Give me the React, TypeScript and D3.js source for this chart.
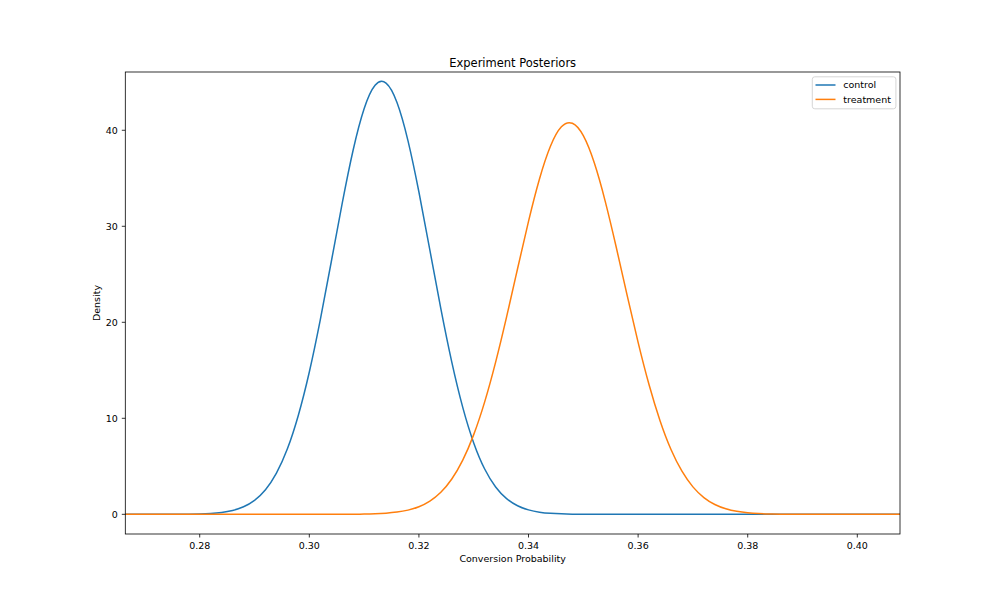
import React from "react";
import * as d3 from "d3";

const conversionGrid = [
  0.266, 0.268, 0.27, 0.272, 0.274, 0.276, 0.278, 0.28, 0.282, 0.284, 0.286, 0.288,
  0.29, 0.292, 0.294, 0.296, 0.298, 0.3, 0.302, 0.304, 0.306, 0.308, 0.31, 0.312,
  0.314, 0.316, 0.318, 0.32, 0.322, 0.324, 0.326, 0.328, 0.33, 0.332, 0.334, 0.336,
  0.338, 0.34, 0.342, 0.344, 0.346, 0.348, 0.35, 0.352, 0.354, 0.356, 0.358, 0.36,
  0.362, 0.364, 0.366, 0.368, 0.37, 0.372, 0.374, 0.376, 0.378, 0.38, 0.382, 0.384,
  0.386, 0.388, 0.39, 0.392, 0.394, 0.396, 0.398, 0.4, 0.402, 0.404, 0.406, 0.408,
];

const controlDensity = [
  0, 0.0001, 0.0003, 0.0009, 0.0025, 0.0066, 0.0166, 0.0397, 0.09, 0.195, 0.4, 0.783,
  1.452, 2.559, 4.289, 6.82, 10.32, 14.82, 20.25, 26.28, 32.39, 37.95, 42.25, 44.69,
  44.92, 42.9, 38.93, 33.57, 27.51, 21.42, 15.85, 11.14, 7.44, 4.72, 2.85, 1.63,
  0.889, 0.46, 0.226, 0.106, 0.047, 0.0198, 0.0079, 0.003, 0.001, 0.0004, 0.0001, 0,
  0, 0, 0, 0, 0, 0, 0, 0, 0, 0, 0, 0,
  0, 0, 0, 0, 0, 0, 0, 0, 0, 0, 0, 0,
];

const treatmentDensity = [
  0, 0, 0, 0, 0, 0, 0, 0, 0, 0, 0, 0,
  0, 0, 0, 0, 0, 0.0003, 0.0008, 0.0021, 0.0051, 0.012, 0.0267, 0.057,
  0.118, 0.232, 0.438, 0.794, 1.381, 2.302, 3.681, 5.646, 8.3, 11.71, 15.85, 20.56,
  25.58, 30.52, 34.93, 38.34, 40.36, 40.73, 39.44, 36.61, 32.6, 27.84, 22.8, 17.91,
  13.49, 9.75, 6.75, 4.49, 2.86, 1.747, 1.024, 0.576, 0.31, 0.16, 0.0795, 0.0378,
  0.0173, 0.0075, 0.0031, 0.0012, 0.0005, 0.0002, 0.0001, 0, 0, 0, 0, 0,
];

const seriesNames = ["control", "treatment"];
const seriesColors = ["#1f77b4", "#ff7f0e"];
const xTicks = [0.28, 0.3, 0.32, 0.34, 0.36, 0.38, 0.4];
const yTicks = [0, 10, 20, 30, 40];

export default function App() {
  const W = 1000;
  const H = 600;
  const left = 125.3;
  const right = 900;
  const top = 72;
  const bottom = 534;
  const font = "'DejaVu Sans', sans-serif";

  const x = d3.scaleLinear().domain([0.26642, 0.40779]).range([left, right]);
  const y = d3.scaleLinear().domain([-2.05, 46.07]).range([bottom, top]);

  const line = d3
    .line<number>()
    .x((_, i) => x(conversionGrid[i]))
    .y((d) => y(d))
    .curve(d3.curveNatural);

  const series = [controlDensity, treatmentDensity];

  return (
    <svg
      width={W}
      height={H}
      style={{ position: "absolute", left: 0, top: 0, background: "#fff" }}
      fontFamily={font}
    >
      <defs>
        <clipPath id="plotClip">
          <rect x={left} y={top} width={right - left} height={bottom - top} />
        </clipPath>
      </defs>
      <rect x={0} y={0} width={W} height={H} fill="#fff" />
      <g clipPath="url(#plotClip)">
        {series.map((s, i) => (
          <path
            key={seriesNames[i]}
            d={line(s) || ""}
            fill="none"
            stroke={seriesColors[i]}
            strokeWidth={1.5}
            strokeLinejoin="round"
            strokeLinecap="square"
          />
        ))}
      </g>
      {/* spines */}
      <rect
        x={left}
        y={top}
        width={right - left}
        height={bottom - top}
        fill="none"
        stroke="#000"
        strokeWidth={0.8}
      />
      {/* x ticks */}
      {xTicks.map((t) => (
        <g key={"x" + t}>
          <line x1={x(t)} x2={x(t)} y1={bottom} y2={bottom + 3.5} stroke="#000" strokeWidth={0.8} />
          <text x={x(t)} y={bottom + 14.6} textAnchor="middle" fontSize={9.5} fill="#000">
            {t.toFixed(2)}
          </text>
        </g>
      ))}
      {/* y ticks */}
      {yTicks.map((t) => (
        <g key={"y" + t}>
          <line x1={left - 3.5} x2={left} y1={y(t)} y2={y(t)} stroke="#000" strokeWidth={0.8} />
          <text x={left - 7.5} y={y(t)} dy="0.35em" textAnchor="end" fontSize={9.5} fill="#000">
            {t}
          </text>
        </g>
      ))}
      <text x={(left + right) / 2} y={561.5} textAnchor="middle" fontSize={9.5} fill="#000">
        Conversion Probability
      </text>
      <text
        transform={`translate(100.3,${(top + bottom) / 2}) rotate(-90)`}
        textAnchor="middle"
        fontSize={9.5}
        fill="#000"
      >
        Density
      </text>
      <text x={(left + right) / 2} y={66.5} textAnchor="middle" fontSize={11.5} fill="#000">
        Experiment Posteriors
      </text>
      {/* legend */}
      <g>
        <rect
          x={812.3}
          y={76.8}
          width={83.6}
          height={32}
          rx={2.5}
          fill="#fff"
          fillOpacity={0.8}
          stroke="#ccc"
          strokeWidth={0.8}
        />
        {seriesNames.map((n, i) => (
          <g key={"lg" + n}>
            <line
              x1={815.5}
              x2={835.5}
              y1={85 + i * 14.4}
              y2={85 + i * 14.4}
              stroke={seriesColors[i]}
              strokeWidth={1.5}
            />
            <text x={843.3} y={85 + i * 14.4} dy="0.35em" fontSize={9.5} fill="#000">
              {n}
            </text>
          </g>
        ))}
      </g>
    </svg>
  );
}
